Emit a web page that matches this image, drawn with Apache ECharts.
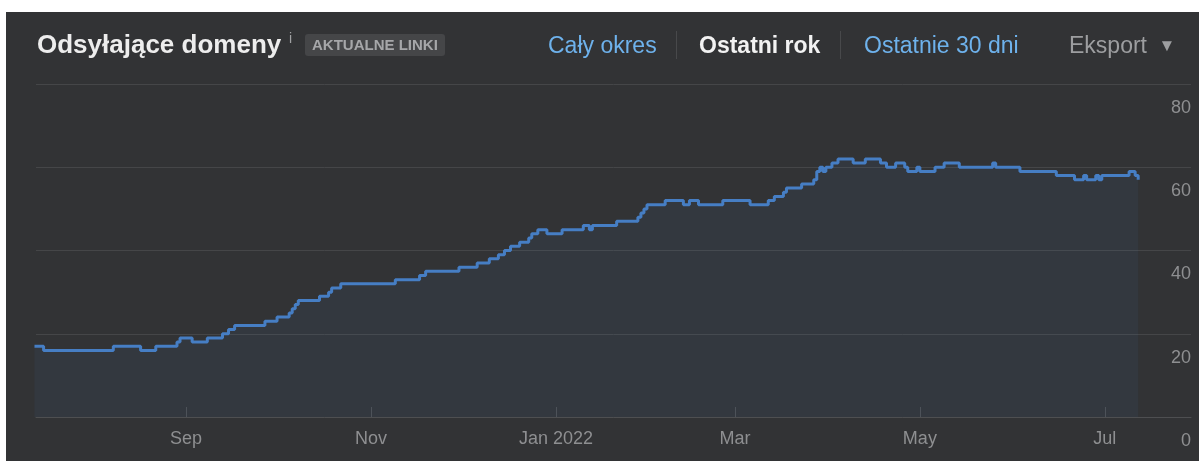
<!DOCTYPE html>
<html>
<head>
<meta charset="utf-8">
<script src="https://cdn.jsdelivr.net/npm/echarts@6/dist/echarts.min.js"></script>
<style>
    html, body {margin:0;padding:0;background:#fff;width:1199px;height:461px;overflow:hidden;}
    #panel {position:absolute;left:6px;top:12px;right:0;bottom:0;background:#323335;}
    #chart {position:absolute;left:0;top:0;width:1199px;height:461px;}
    .hd {position:absolute;font-family:"Liberation Sans",Arial,sans-serif;white-space:nowrap;line-height:30px;height:30px;}
    .title {left:37px;top:29px;font-size:26px;font-weight:bold;color:#ededed;}
    .info {left:289px;top:23px;font-size:14px;color:#a0a1a3;}
    .badge {left:305px;top:34px;height:22px;line-height:22px;padding:0 7px;font-size:15px;font-weight:bold;color:#a6a7a9;background:#454648;border-radius:3px;}
    .nav {top:30px;font-size:23px;}
    .sep {position:absolute;top:31px;width:1px;height:28px;background:#48494b;}
</style>
</head>
<body>
<div id="panel"></div>
<div id="chart"></div>
<div class="hd title">Odsyłające domeny</div>
<div class="hd info">i</div>
<div class="hd badge">AKTUALNE LINKI</div>
<div class="hd nav" style="left:548px;color:#6eb2ec">Cały okres</div>
<div class="sep" style="left:676px"></div>
<div class="hd nav" style="left:699px;color:#f2f2f2;font-weight:bold">Ostatni rok</div>
<div class="sep" style="left:840px"></div>
<div class="hd nav" style="left:864px;color:#6eb2ec">Ostatnie 30 dni</div>
<div class="hd nav" style="left:1069px;color:#9d9ea0">Eksport <span style="font-size:17px;position:relative;top:-2px;margin-left:5px">▼</span></div>

<script>
    // dni, w których zmieniała się liczba domen (wartość obowiązuje do kolejnej daty)
    let dates = [
        '2021-07-13','2021-07-16','2021-08-08','2021-08-17','2021-08-22','2021-08-29','2021-08-30',
        '2021-09-03','2021-09-08','2021-09-13','2021-09-15','2021-09-17','2021-09-27','2021-10-01',
        '2021-10-05','2021-10-06','2021-10-07','2021-10-08','2021-10-15','2021-10-18','2021-10-19',
        '2021-10-22','2021-11-09','2021-11-17','2021-11-19','2021-11-30','2021-12-06','2021-12-10',
        '2021-12-13','2021-12-15','2021-12-17','2021-12-20','2021-12-23','2021-12-24','2021-12-26',
        '2021-12-29','2022-01-03','2022-01-10','2022-01-12','2022-01-13','2022-01-21','2022-01-28',
        '2022-01-29','2022-01-30','2022-01-31','2022-02-06','2022-02-12','2022-02-14','2022-02-17',
        '2022-02-25','2022-03-06','2022-03-12','2022-03-14','2022-03-17','2022-03-18','2022-03-23',
        '2022-03-27','2022-03-28','2022-03-29','2022-03-30','2022-03-31','2022-04-02','2022-04-04',
        '2022-04-09','2022-04-13','2022-04-18','2022-04-20','2022-04-23','2022-04-26','2022-04-27',
        '2022-04-30','2022-05-01','2022-05-06','2022-05-09','2022-05-14','2022-05-25','2022-05-26',
        '2022-06-03','2022-06-15','2022-06-21','2022-06-24','2022-06-25','2022-06-28','2022-06-29',
        '2022-06-30','2022-07-09','2022-07-11','2022-07-12'
    ]
    let domains = [
        17,16,17,16,17,18,19,
        18,19,20,21,22,23,24,
        25,26,27,28,29,30,31,
        32,33,34,35,36,37,38,
        39,40,41,42,43,44,45,
        44,45,46,45,46,47,48,
        49,50,51,52,51,52,51,
        52,51,52,53,54,55,56,
        57,59,60,59,60,61,62,
        61,62,61,60,61,60,59,
        60,59,60,61,60,61,60,
        59,58,57,58,57,58,57,
        58,59,58,57
    ]
    let tickDates = ['2021-09-01','2021-11-01','2022-01-01','2022-03-01','2022-05-01','2022-07-01']
    let tickLabels = ['Sep','Nov','Jan 2022','Mar','May','Jul']
    let yMin = 0, yMax = 80, yStep = 20

    let ts = function (s) {
        return new Date(s.length > 10 ? s : s + 'T00:00:00').getTime()
    }
    let tickTs = tickDates.map(ts)
    let font = '"Liberation Sans", Arial, sans-serif'
    let gridColor = '#454648'
    let labelColor = '#8e8f91'

    let myChart = echarts.init(document.getElementById('chart'))
    let option = {
        animation: false,
        backgroundColor: 'transparent',
        grid: {left: 36, right: 8, top: 84, bottom: 44},
        xAxis: {
            // oś liczbowa ze znacznikami czasu, żeby customValues działały
            type: 'value',
            min: ts('2021-07-13T12:00:00'),
            max: ts('2022-07-29T10:00:00'),
            axisLine: {lineStyle: {color: '#4e4f51', width: 1}},
            axisTick: {show: true, inside: true, length: 10, customValues: tickTs, lineStyle: {color: '#4e4f51'}},
            axisLabel: {
                customValues: tickTs,
                showMinLabel: true, showMaxLabel: true,
                formatter: function (v) {
                    let i = tickTs.indexOf(+v)
                    return i >= 0 ? tickLabels[i] : ''
                },
                color: labelColor, fontSize: 18, fontFamily: font, margin: 13
            },
            splitLine: {show: false}
        },
        yAxis: {
            type: 'value',
            position: 'right',
            min: yMin, max: yMax, interval: yStep,
            axisLine: {show: false},
            axisTick: {show: false},
            splitLine: {lineStyle: {color: gridColor, width: 1}},
            axisLabel: {
                inside: true, margin: 0,
                color: labelColor, fontSize: 18, fontFamily: font,
                verticalAlign: 'top', padding: [15, 0, 0, 0]
            }
        },
        series: [{
            name: 'Odsyłające domeny',
            type: 'line',
            step: 'end',
            showSymbol: false,
            data: dates.map((d, i) => [ts(d), domains[i]]),
            lineStyle: {color: '#467ec4', width: 3},
            itemStyle: {color: '#467ec4'},
            areaStyle: {color: 'rgba(74,128,196,0.1)'}
        }]
    }
    myChart.setOption(option)
</script>
</body>
</html>
